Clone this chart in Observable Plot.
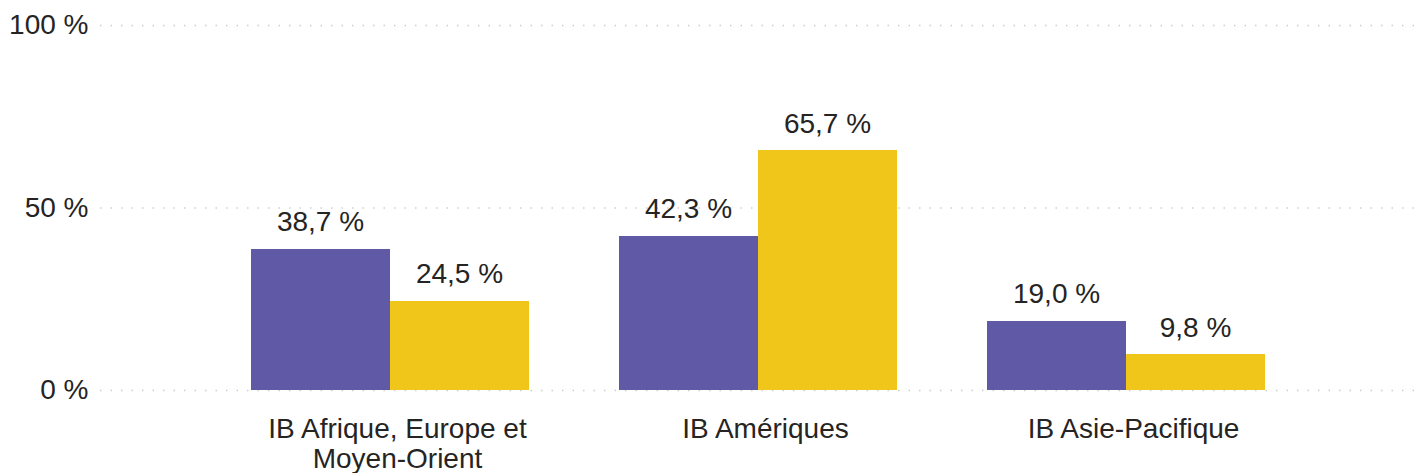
<!DOCTYPE html>
<html><head><meta charset="utf-8">
<script src="https://cdn.jsdelivr.net/npm/d3@7"></script>
<script src="https://cdn.jsdelivr.net/npm/@observablehq/plot@0.6"></script>
<style>
body{margin:0;background:#fff;overflow:hidden}
#chart{position:relative;width:1416px;height:473px}
#chart svg{position:absolute;left:0;top:0}
</style>
</head><body><div id="chart"></div>
<script>
const groups = ["IB Afrique, Europe et Moyen-Orient", "IB Amériques", "IB Asie-Pacifique"];
const groupLabels = ["IB Afrique, Europe et\nMoyen-Orient", "IB Amériques", "IB Asie-Pacifique"];
const series = ["Série 1", "Série 2"];
const seriesA = [38.7, 42.3, 19.0];
const seriesB = [24.5, 65.7, 9.8];
const yTicks = [0, 50, 100];
const colors = ["#6059A5", "#F0C61A"];

const data = groups.flatMap((g, i) => [
  {group: g, series: series[0], value: seriesA[i]},
  {group: g, series: series[1], value: seriesB[i]}
]);
const fmt = v => v.toFixed(1).replace(".", ",") + " %";
const labelOf = g => groupLabels[groups.indexOf(g)];

const common = {
  width: 1416, height: 473,
  marginLeft: 100, marginRight: 0, marginTop: 25, marginBottom: 83,
  style: {fontFamily: "'Liberation Sans', Arial, sans-serif", fontSize: "28px", color: "#252423", background: "transparent"},
  y: {domain: [0, 100], axis: null}
};

// Background: gridlines and y-axis labels across the full frame
const back = Plot.plot({
  ...common,
  marks: [
    Plot.ruleY(yTicks, {stroke: "#cfcfcf", strokeWidth: 1.5, strokeDasharray: "1.5,9"}),
    Plot.axisY(yTicks, {tickSize: 0, tickPadding: 12, tickFormat: d => d + " %", fontSize: 28, fill: "#252423", label: null})
  ]
});

// Foreground: grouped bars
const front = Plot.plot({
  ...common,
  fx: {domain: groups, paddingInner: 0.242, paddingOuter: 0.409, round: false, label: null},
  x: {domain: series, padding: 0, axis: null},
  color: {domain: series, range: colors},
  marks: [
    Plot.barY(data, {fx: "group", x: "series", y: "value", fill: "series", shapeRendering: "crispEdges"}),
    Plot.text(data, {fx: "group", x: "series", y: "value", text: d => fmt(d.value), lineAnchor: "middle", dy: -27, fill: "#252423", fontSize: 28}),
    Plot.axisFx({anchor: "bottom", tickSize: 0, tickPadding: 27, tickFormat: labelOf, lineHeight: 1.05, fontSize: 28, dx: 7, label: null, fill: "#252423"})
  ]
});
const el = document.getElementById("chart");
el.appendChild(back);
el.appendChild(front);
</script>
</body></html>
